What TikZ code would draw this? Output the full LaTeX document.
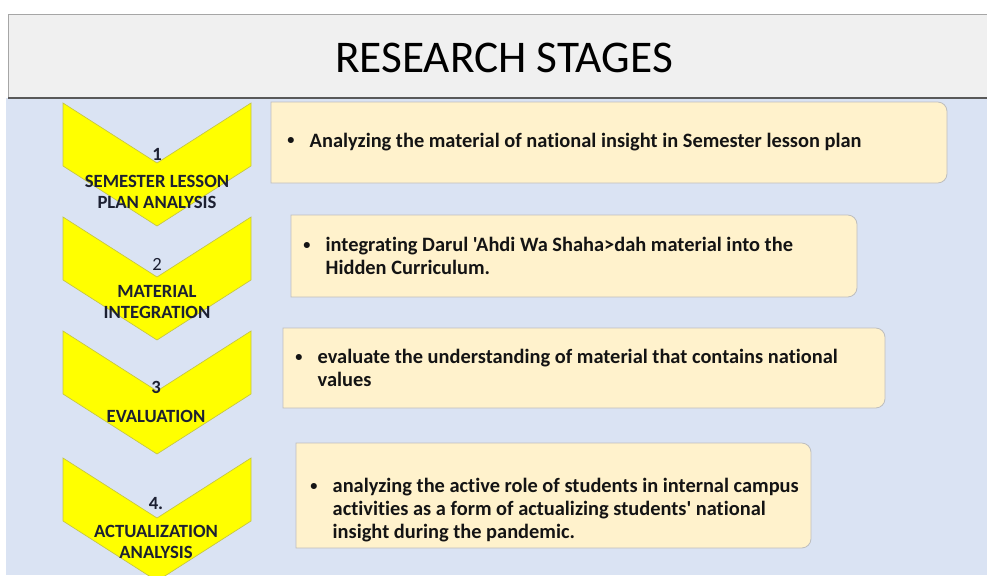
\documentclass[tikz,border=0pt]{standalone}
\usepackage{fontspec}
\setmainfont{Carlito}[Ligatures={TeXOff,NoCommon}]
\definecolor{headbg}{RGB}{240,240,240}
\definecolor{pagebg}{RGB}{218,227,243}
\definecolor{chevfill}{RGB}{255,255,0}
\definecolor{chevedge}{RGB}{196,196,70}
\definecolor{notefill}{RGB}{255,242,204}
\definecolor{noteedge}{RGB}{190,190,190}
\definecolor{labelink}{RGB}{28,32,50}
\definecolor{noteink}{RGB}{20,20,20}
% bullet and hanging indent for the note lines
\def\bul{\raisebox{0.12em}{\scalebox{0.7}{\textbullet}}\hspace{0.75em}}
\def\ind{\phantom{\scalebox{0.7}{\textbullet}}\hspace{0.75em}}
% note box with the two right corners rounded
\newcommand\notebox[2]{\draw[note] (#1) -- ([xshift=-7pt]#1 -| #2) arc[start angle=90,end angle=0,radius=7pt] -- ([yshift=7pt]#2) arc[start angle=0,end angle=-90,radius=7pt] -- (#1 |- #2) -- cycle;}
\begin{document}
\begin{tikzpicture}[x=0.75pt,y=-0.75pt]
    \tikzset{chevron/.style = {fill=chevfill,draw=chevedge,line width=0.5pt,line join=miter},
      note/.style = {fill=notefill,draw=noteedge,line width=0.6pt},
      stagenum/.style = {font=\bfseries\fontsize{14}{15.5}\selectfont,text=labelink,inner sep=0pt},
      stagename/.style = {font=\bfseries\fontsize{14}{15.2}\selectfont,text=labelink,align=center,inner sep=0pt},
      notetext/.style = {font=\bfseries\fontsize{15.3}{17.2}\selectfont,text=noteink,align=left,anchor=west,inner sep=0pt}}
    \clip (0,0) rectangle (987,575);
    % header and page
    \fill[pagebg] (6,98) rectangle (987,575);
    \draw[fill=headbg,draw=black!35,line width=0.75pt] (8,14) rectangle (992,98);
    \draw[black!65,line width=1.5pt] (8,98) -- (987,98);
    \node (title) at (504,58) {\fontsize{34}{40}\selectfont RESEARCH STAGES};

    % the four stage chevrons
    \foreach \t in {103,217,331,458}
      \draw[chevron] (63,\t) -- (157,\t+60) -- (251,\t) -- (251,\t+63) -- (157,\t+123) -- (63,\t+63) -- cycle;

    \node[stagenum] (n1) at (157,154) {1};
    \node[stagename] (c1) at (157,192) {SEMESTER LESSON\\PLAN ANALYSIS};
    \node[stagenum,font=\fontsize{14}{15.5}\selectfont] (n2) at (157,264) {2};
    \node[stagename] (c2) at (157,302) {MATERIAL\\INTEGRATION};
    \node[stagenum] (n3) at (156,387) {3};
    \node[stagename] (c3) at (156,416) {EVALUATION};
    \node[stagenum] (n4) at (156,503) {4.};
    \node[stagename] (c4) at (156,542) {ACTUALIZATION\\ANALYSIS};

    % note boxes
    \coordinate (b1a) at (271,102); \coordinate (b1b) at (947,183);
    \coordinate (b2a) at (291,215); \coordinate (b2b) at (857,297);
    \coordinate (b3a) at (283,328); \coordinate (b3b) at (885,408);
    \coordinate (b4a) at (296,443); \coordinate (b4b) at (811,548);
    \notebox{b1a}{b1b}
    \notebox{b2a}{b2b}
    \notebox{b3a}{b3b}
    \notebox{b4a}{b4b}

    \node[notetext] (t1) at (287,142) {\bul Analyzing the material of national insight in Semester lesson plan};
    \node[notetext] (t2) at (303,256) {\bul integrating Darul 'Ahdi Wa Shaha>dah material into the\\\ind Hidden Curriculum.};
    \node[notetext] (t3) at (295,368) {\bul evaluate the understanding of material that contains national\\\ind values};
    \node[notetext] (t4) at (310,510) {\bul analyzing the active role of students in internal campus\\\ind activities as a form of actualizing students' national\\\ind insight during the pandemic.};
\end{tikzpicture}
\end{document}
